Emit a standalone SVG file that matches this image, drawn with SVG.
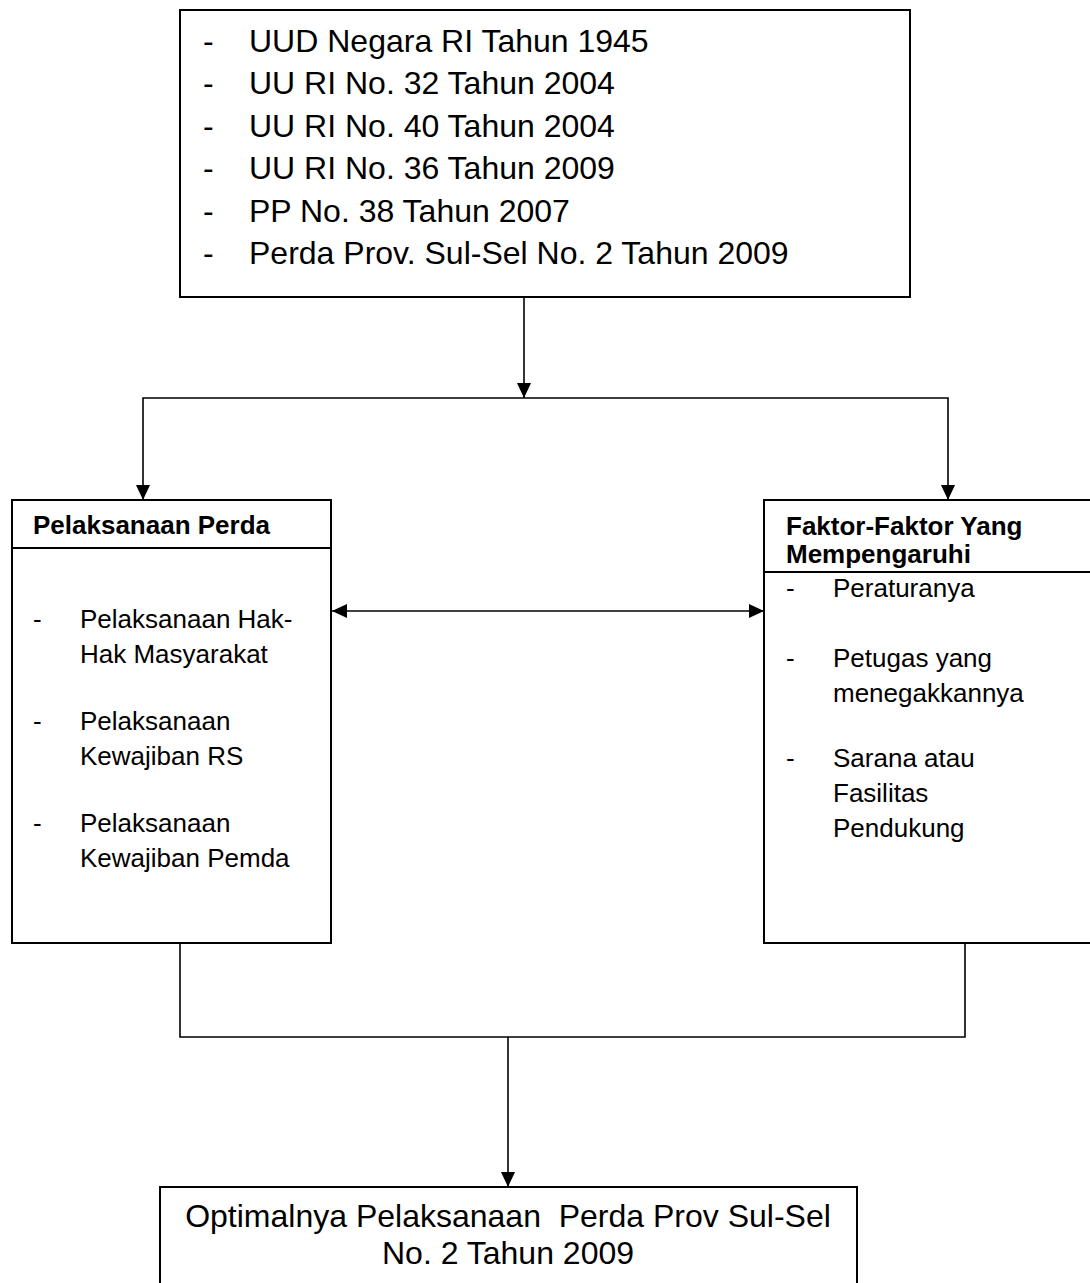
<svg xmlns="http://www.w3.org/2000/svg" width="1090" height="1283" viewBox="0 0 1090 1283">
<style>
.box{fill:#fff;stroke:#000;stroke-width:2}
.sep{stroke:#000;stroke-width:2}
.t32{font-family:"Liberation Sans",Arial,sans-serif;font-size:32px;fill:#000}
.t26{font-family:"Liberation Sans",Arial,sans-serif;font-size:26px;fill:#000}
.b26{font-family:"Liberation Sans",Arial,sans-serif;font-size:26px;font-weight:bold;fill:#000}
.con{fill:none;stroke:#000;stroke-width:1.6}
</style>
<defs>
<marker id="arr" markerUnits="userSpaceOnUse" markerWidth="16" markerHeight="14" refX="15" refY="7" orient="auto-start-reverse">
<path d="M0,0 L15,7 L0,14 Z" fill="#000"/>
</marker>
</defs>
<rect width="1090" height="1283" fill="#fff"/>
<g id="connectors">
<path class="con" d="M524,297 V398" marker-end="url(#arr)"/>
<path class="con" d="M143,500 V398 H948 V500" marker-start="url(#arr)" marker-end="url(#arr)"/>
<path class="con" d="M332,611 H764" marker-start="url(#arr)" marker-end="url(#arr)"/>
<path class="con" d="M180,943 V1037 H965 V943"/>
<path class="con" d="M508,1037 V1187" marker-end="url(#arr)"/>
</g>
<g id="legal-basis">
<rect class="box" x="180" y="10" width="730" height="287"/>
<g class="t32">
<text x="203" y="52">-</text><text x="249" y="52">UUD Negara RI Tahun 1945</text>
<text x="203" y="94">-</text><text x="249" y="94">UU RI No. 32 Tahun 2004</text>
<text x="203" y="137">-</text><text x="249" y="137">UU RI No. 40 Tahun 2004</text>
<text x="203" y="179">-</text><text x="249" y="179">UU RI No. 36 Tahun 2009</text>
<text x="203" y="222">-</text><text x="249" y="222">PP No. 38 Tahun 2007</text>
<text x="203" y="264">-</text><text x="249" y="264">Perda Prov. Sul-Sel No. 2 Tahun 2009</text>
</g>
</g>
<g id="pelaksanaan-perda">
<rect class="box" x="12" y="500" width="319" height="443"/>
<line class="sep" x1="12" y1="548" x2="331" y2="548"/>
<text class="b26" x="33" y="534">Pelaksanaan Perda</text>
<g class="t26">
<text x="33" y="628">-</text><text x="80" y="628">Pelaksanaan Hak-</text>
<text x="80" y="663">Hak Masyarakat</text>
<text x="33" y="730">-</text><text x="80" y="730">Pelaksanaan</text>
<text x="80" y="765">Kewajiban RS</text>
<text x="33" y="832">-</text><text x="80" y="832">Pelaksanaan</text>
<text x="80" y="867">Kewajiban Pemda</text>
</g>
</g>
<g id="faktor">
<rect class="box" x="764" y="500" width="340" height="443"/>
<line class="sep" x1="764" y1="572" x2="1090" y2="572"/>
<text class="b26" x="786" y="535">Faktor-Faktor Yang</text>
<text class="b26" x="786" y="563">Mempengaruhi</text>
<g class="t26">
<text x="786" y="597">-</text><text x="833" y="597">Peraturanya</text>
<text x="786" y="667">-</text><text x="833" y="667">Petugas yang</text>
<text x="833" y="702">menegakkannya</text>
<text x="786" y="767">-</text><text x="833" y="767">Sarana atau</text>
<text x="833" y="802">Fasilitas</text>
<text x="833" y="837">Pendukung</text>
</g>
</g>
<g id="hasil">
<rect class="box" x="160" y="1187" width="697" height="110"/>
<text class="t32" x="508" y="1227" text-anchor="middle" xml:space="preserve">Optimalnya Pelaksanaan  Perda Prov Sul-Sel</text>
<text class="t32" x="508" y="1264" text-anchor="middle">No. 2 Tahun 2009</text>
</g>
</svg>
